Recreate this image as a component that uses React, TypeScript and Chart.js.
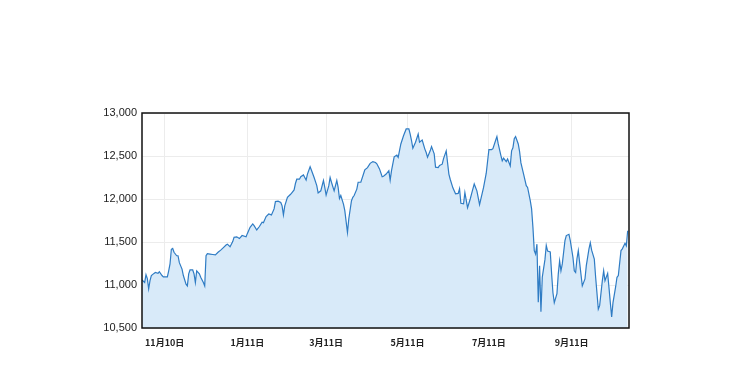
import React, { useEffect, useRef } from "react";
import { Chart, registerables } from "chart.js";

Chart.register(...registerables);

// x positions: calendar days counted from 11月10日 (day 0)
const tickDays = [0, 62, 121, 182, 243, 305];
const tickLabels = ["11月10日", "1月11日", "3月11日", "5月11日", "7月11日", "9月11日"];
const yTicks = [10500, 11000, 11500, 12000, 12500, 13000];

const days = [
  -17, -15, -14, -13, -12, -11, -10, -8, -7, -5, -4, -2, -1, 2, 3, 4, 5, 6, 7, 9,
  10, 11, 13, 14, 16, 17, 18, 19, 21, 22, 23, 24, 26, 27, 29, 30, 31, 32, 34, 36,
  38, 40, 42, 44, 46, 47, 49, 51, 52, 54, 56, 58, 61, 62, 64, 66, 67, 69, 71, 73,
  74, 76, 78, 80, 82, 83, 85, 87, 88, 89, 90, 92, 94, 95, 97, 98, 99, 101, 102, 104,
  105, 106, 107, 109, 110, 112, 114, 115, 117, 119, 120, 121, 123, 124, 125, 127, 129, 130, 131, 132,
  134, 135, 137, 138, 140, 141, 142, 144, 145, 147, 149, 150, 152, 154, 156, 158, 159, 161, 163, 164,
  166, 168, 169, 170, 172, 174, 175, 177, 179, 181, 183, 184, 185, 186, 188, 190, 191, 193, 195, 196,
  197, 199, 200, 202, 203, 205, 206, 208, 209, 211, 213, 214, 216, 218, 220, 221, 222, 224, 225, 227,
  229, 230, 232, 234, 236, 239, 241, 243, 245, 246, 248, 249, 250, 252, 253, 254, 256, 257, 259, 260,
  261, 262, 263, 265, 266, 267, 269, 271, 272, 274, 275, 276, 277, 278, 279, 280, 281, 282, 283, 285,
  286, 287, 289, 290, 291, 292, 294, 295, 296, 297, 298, 300, 301, 303, 304, 306, 307, 308, 309, 310,
  311, 313, 315, 316, 318, 319, 320, 322, 323, 325, 326, 328, 329, 330, 332, 333, 334, 335, 336, 338,
  339, 340, 342, 343, 345, 346, 347,
];

const values = [
  11060, 11030, 11120, 11075, 10955, 11050, 11110, 11135, 11145, 11135, 11155, 11110, 11095, 11095, 11165, 11245, 11415, 11425, 11380, 11340,
  11340, 11260, 11185, 11110, 11010, 10990, 11130, 11175, 11175, 11130, 11030, 11165, 11130, 11090, 11030, 10990, 11340, 11365, 11360, 11355,
  11350, 11380, 11405, 11435, 11465, 11475, 11445, 11505, 11555, 11560, 11540, 11575, 11560, 11600, 11670, 11710, 11690, 11640, 11680, 11730,
  11725, 11795, 11825, 11815, 11885, 11970, 11975, 11960, 11920, 11815, 11920, 12020, 12050, 12065, 12105, 12180, 12230, 12230, 12260, 12280,
  12250, 12220, 12290, 12375, 12335, 12250, 12155, 12070, 12095, 12215, 12135, 12045, 12155, 12250, 12195, 12095, 12215, 12135, 12005, 12040,
  11940, 11865, 11610, 11770, 11980, 12020, 12040, 12115, 12195, 12195, 12290, 12340, 12365, 12415, 12435, 12425, 12410, 12350, 12260, 12265,
  12290, 12330, 12220, 12330, 12490, 12510, 12485, 12640, 12735, 12815, 12815, 12755, 12680, 12590, 12660, 12755, 12660, 12685, 12580, 12540,
  12485, 12560, 12610, 12525, 12370, 12365, 12390, 12405, 12470, 12560, 12290, 12230, 12130, 12060, 12065, 12120, 11950, 11945, 12075, 11900,
  12000, 12060, 12175, 12095, 11935, 12135, 12300, 12575, 12575, 12585, 12680, 12725, 12640, 12505, 12445, 12475, 12435, 12465, 12385, 12560,
  12595, 12700, 12725, 12640, 12550, 12420, 12290, 12155, 12135, 11980, 11885, 11670, 11400, 11360, 11475, 10800, 11225, 10690, 11090, 11295,
  11460, 11395, 11385, 11130, 10910, 10795, 10900, 11130, 11280, 11165, 11245, 11515, 11575, 11590, 11515, 11320, 11165, 11145, 11305, 11400,
  11260, 10990, 11070, 11225, 11420, 11490, 11405, 11300, 11090, 10720, 10760, 11050, 11165, 11050, 11135, 10970, 10795, 10630, 10795, 10980,
  11090, 11110, 11400, 11420, 11485, 11455, 11630,
];

const boxPlugin = {
  id: "plotBox",
  afterDatasetsDraw(chart: any) {
    const { ctx, chartArea: a } = chart;
    ctx.save();
    ctx.strokeStyle = "#111";
    ctx.lineWidth = 1.5;
    ctx.strokeRect(a.left, a.top, a.right - a.left, a.bottom - a.top);
    ctx.restore();
  },
};

export default function App() {
  const ref = useRef<HTMLCanvasElement>(null);

  useEffect(() => {
    if (!ref.current) return;
    const chart = new Chart(ref.current, {
      type: "line",
      data: {
        datasets: [
          {
            data: days.map((d, i) => ({ x: d, y: values[i] })),
            borderColor: "#2f7cc4",
            backgroundColor: "#d8eaf9",
            borderWidth: 1.2,
            fill: "start",
            pointRadius: 0,
            tension: 0,
          },
        ],
      },
      options: {
        animation: false,
        responsive: false,
        maintainAspectRatio: false,
        layout: { padding: { top: 113, right: 121, bottom: 0, left: 0 } },
        plugins: { legend: { display: false }, tooltip: { enabled: false } },
        scales: {
          x: {
            type: "linear",
            min: -17,
            max: 348,
            afterBuildTicks: (s: any) => {
              s.ticks = tickDays.map((v) => ({ value: v }));
            },
            afterFit: (s: any) => {
              s.height = 47;
            },
            ticks: {
              autoSkip: false,
              maxRotation: 0,
              padding: 9,
              color: "#222",
              font: { family: "'Noto Sans CJK JP', sans-serif", size: 9, weight: "bold" },
              callback: (v: any) => {
                const i = tickDays.indexOf(Number(v));
                return i >= 0 ? tickLabels[i] : "";
              },
            },
            grid: { color: "#ececec", drawTicks: false },
            border: { display: false },
          },
          y: {
            min: 10500,
            max: 13000,
            afterBuildTicks: (s: any) => {
              s.ticks = yTicks.map((v) => ({ value: v }));
            },
            afterFit: (s: any) => {
              s.width = 142;
            },
            ticks: {
              padding: 5,
              color: "#222",
              font: { family: "'Liberation Sans', Arial, sans-serif", size: 11 },
              callback: (v: any) => Number(v).toLocaleString("en-US"),
            },
            grid: { color: "#ececec", drawTicks: false },
            border: { display: false },
          },
        },
      },
      plugins: [boxPlugin],
    });
    return () => chart.destroy();
  }, []);

  return (
    <div style={{ position: "absolute", left: 0, top: 0, width: 750, height: 375, background: "#fff" }}>
      <canvas ref={ref} width={750} height={375} style={{ width: 750, height: 375, display: "block" }} />
    </div>
  );
}
